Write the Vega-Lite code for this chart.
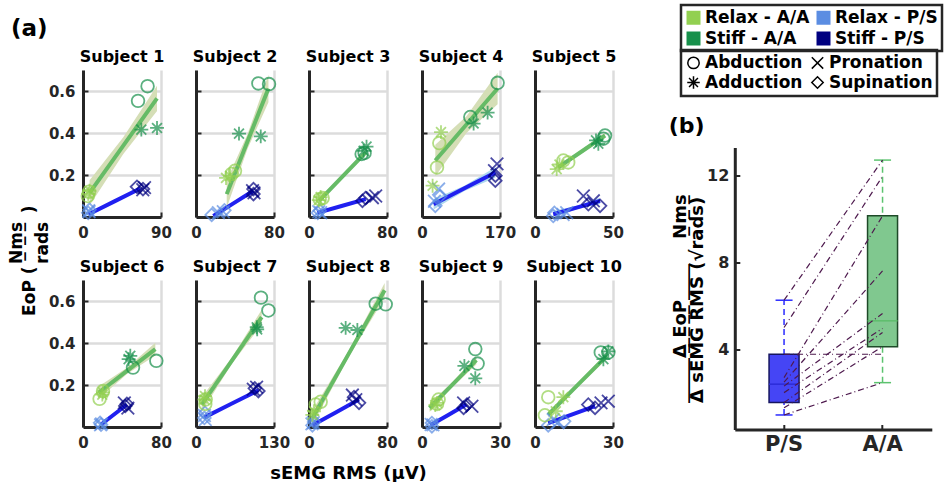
{
"$schema":"https://vega.github.io/schema/vega-lite/v6.json",
"padding":{"left":7,"top":3,"right":0,"bottom":0},
"title":{"text":["\u200b\u00a0\u00a0\u00a0\u00a0\u00a0\u00a0\u00a0\u00a0\u00a0N\u0332m\u0332s\u0332\u00a0\u00a0\u00a0\u00a0\u00a0\u00a0\u00a0\u00a0\u00a0\u200b","EoP (\u00a0\u00a0\u00a0\u00a0\u00a0\u00a0\u00a0\u00a0\u00a0)\u00a0\u00a0\u00a0\u00a0\u00a0\u00a0\u200b","\u200b\u00a0\u00a0\u00a0\u00a0\u00a0\u00a0\u00a0\u00a0\u00a0rads\u00a0\u00a0\u00a0\u00a0\u00a0\u00a0\u00a0\u00a0\u00a0\u200b"],"orient":"left","anchor":"middle","frame":"bounds","offset":-41,"fontSize":17,"lineHeight":13},
"datasets":{
"pts":[
{"s":1,"c":"Relax - P/S","m":"Supination","x":6,"y":0.02},{"s":1,"c":"Relax - P/S","m":"Supination","x":7.5,"y":0.035},{"s":1,"c":"Relax - P/S","m":"Pronation","x":6.5,"y":0.03},{"s":1,"c":"Relax - P/S","m":"Pronation","x":7,"y":0.025},
{"s":1,"c":"Stiff - P/S","m":"Supination","x":62.3,"y":0.144},{"s":1,"c":"Stiff - P/S","m":"Supination","x":69.2,"y":0.133},{"s":1,"c":"Stiff - P/S","m":"Pronation","x":69,"y":0.13},{"s":1,"c":"Stiff - P/S","m":"Pronation","x":71,"y":0.14},
{"s":1,"c":"Relax - A/A","m":"Abduction","x":5.5,"y":0.1},{"s":1,"c":"Relax - A/A","m":"Abduction","x":7,"y":0.12},{"s":1,"c":"Relax - A/A","m":"Adduction","x":6,"y":0.11},{"s":1,"c":"Relax - A/A","m":"Adduction","x":7.5,"y":0.125},
{"s":1,"c":"Stiff - A/A","m":"Abduction","x":63.5,"y":0.553},{"s":1,"c":"Stiff - A/A","m":"Abduction","x":74.5,"y":0.623},{"s":1,"c":"Stiff - A/A","m":"Adduction","x":67.3,"y":0.416},{"s":1,"c":"Stiff - A/A","m":"Adduction","x":85.4,"y":0.424},
{"s":2,"c":"Relax - P/S","m":"Supination","x":16.1,"y":0.01},{"s":2,"c":"Relax - P/S","m":"Supination","x":29.1,"y":0.032},{"s":2,"c":"Relax - P/S","m":"Pronation","x":23,"y":0.02},{"s":2,"c":"Relax - P/S","m":"Pronation","x":28,"y":0.025},
{"s":2,"c":"Stiff - P/S","m":"Supination","x":58.9,"y":0.133},{"s":2,"c":"Stiff - P/S","m":"Supination","x":58.9,"y":0.109},{"s":2,"c":"Stiff - P/S","m":"Pronation","x":58,"y":0.125},{"s":2,"c":"Stiff - P/S","m":"Pronation","x":59.5,"y":0.115},
{"s":2,"c":"Relax - A/A","m":"Abduction","x":40,"y":0.22},{"s":2,"c":"Relax - A/A","m":"Abduction","x":36.6,"y":0.205},{"s":2,"c":"Relax - A/A","m":"Adduction","x":30.8,"y":0.186},{"s":2,"c":"Relax - A/A","m":"Adduction","x":34.9,"y":0.196},
{"s":2,"c":"Stiff - A/A","m":"Abduction","x":64,"y":0.636},{"s":2,"c":"Stiff - A/A","m":"Abduction","x":74.9,"y":0.633},{"s":2,"c":"Stiff - A/A","m":"Adduction","x":44.1,"y":0.397},{"s":2,"c":"Stiff - A/A","m":"Adduction","x":66.4,"y":0.384},
{"s":3,"c":"Relax - P/S","m":"Supination","x":9,"y":0.02},{"s":3,"c":"Relax - P/S","m":"Supination","x":11,"y":0.03},{"s":3,"c":"Relax - P/S","m":"Pronation","x":10,"y":0.025},{"s":3,"c":"Relax - P/S","m":"Pronation","x":12,"y":0.02},
{"s":3,"c":"Stiff - P/S","m":"Supination","x":54.8,"y":0.077},{"s":3,"c":"Stiff - P/S","m":"Supination","x":58,"y":0.09},{"s":3,"c":"Stiff - P/S","m":"Pronation","x":68.4,"y":0.1},{"s":3,"c":"Stiff - P/S","m":"Pronation","x":65,"y":0.092},
{"s":3,"c":"Relax - A/A","m":"Abduction","x":14,"y":0.09},{"s":3,"c":"Relax - A/A","m":"Abduction","x":11,"y":0.085},{"s":3,"c":"Relax - A/A","m":"Adduction","x":10,"y":0.08},{"s":3,"c":"Relax - A/A","m":"Adduction","x":12,"y":0.095},
{"s":3,"c":"Stiff - A/A","m":"Abduction","x":54,"y":0.3},{"s":3,"c":"Stiff - A/A","m":"Abduction","x":57,"y":0.305},{"s":3,"c":"Stiff - A/A","m":"Adduction","x":56,"y":0.315},{"s":3,"c":"Stiff - A/A","m":"Adduction","x":59,"y":0.335},
{"s":4,"c":"Relax - P/S","m":"Supination","x":29,"y":0.053},{"s":4,"c":"Relax - P/S","m":"Supination","x":39.9,"y":0.1},{"s":4,"c":"Relax - P/S","m":"Pronation","x":36.2,"y":0.133},{"s":4,"c":"Relax - P/S","m":"Pronation","x":27,"y":0.075},
{"s":4,"c":"Stiff - P/S","m":"Supination","x":159.8,"y":0.173},{"s":4,"c":"Stiff - P/S","m":"Supination","x":160,"y":0.197},{"s":4,"c":"Stiff - P/S","m":"Pronation","x":163.5,"y":0.253},{"s":4,"c":"Stiff - P/S","m":"Pronation","x":158,"y":0.22},
{"s":4,"c":"Relax - A/A","m":"Abduction","x":37.7,"y":0.352},{"s":4,"c":"Relax - A/A","m":"Abduction","x":32.7,"y":0.236},{"s":4,"c":"Relax - A/A","m":"Adduction","x":41.4,"y":0.404},{"s":4,"c":"Relax - A/A","m":"Adduction","x":23.1,"y":0.149},
{"s":4,"c":"Stiff - A/A","m":"Abduction","x":164.8,"y":0.639},{"s":4,"c":"Stiff - A/A","m":"Abduction","x":105.3,"y":0.476},{"s":4,"c":"Stiff - A/A","m":"Adduction","x":112.5,"y":0.445},{"s":4,"c":"Stiff - A/A","m":"Adduction","x":143,"y":0.497},
{"s":5,"c":"Relax - P/S","m":"Supination","x":11.7,"y":0.005},{"s":5,"c":"Relax - P/S","m":"Supination","x":12.4,"y":0.02},{"s":5,"c":"Relax - P/S","m":"Pronation","x":20.3,"y":0.02},{"s":5,"c":"Relax - P/S","m":"Pronation","x":18,"y":0.012},
{"s":5,"c":"Stiff - P/S","m":"Supination","x":41.7,"y":0.053},{"s":5,"c":"Stiff - P/S","m":"Supination","x":34.2,"y":0.061},{"s":5,"c":"Stiff - P/S","m":"Pronation","x":31,"y":0.1},{"s":5,"c":"Stiff - P/S","m":"Pronation","x":37.4,"y":0.077},
{"s":5,"c":"Relax - A/A","m":"Abduction","x":18.2,"y":0.269},{"s":5,"c":"Relax - A/A","m":"Abduction","x":21.3,"y":0.26},{"s":5,"c":"Relax - A/A","m":"Adduction","x":13.9,"y":0.228},{"s":5,"c":"Relax - A/A","m":"Adduction","x":15.7,"y":0.25},
{"s":5,"c":"Stiff - A/A","m":"Abduction","x":44.9,"y":0.388},{"s":5,"c":"Stiff - A/A","m":"Abduction","x":43.8,"y":0.373},{"s":5,"c":"Stiff - A/A","m":"Adduction","x":39.1,"y":0.365},{"s":5,"c":"Stiff - A/A","m":"Adduction","x":40.6,"y":0.349},
{"s":6,"c":"Relax - P/S","m":"Supination","x":18.5,"y":0.011},{"s":6,"c":"Relax - P/S","m":"Supination","x":17.5,"y":0.02},{"s":6,"c":"Relax - P/S","m":"Pronation","x":18,"y":0.01},{"s":6,"c":"Relax - P/S","m":"Pronation","x":19,"y":0.015},
{"s":6,"c":"Stiff - P/S","m":"Supination","x":43.4,"y":0.1},{"s":6,"c":"Stiff - P/S","m":"Supination","x":45,"y":0.11},{"s":6,"c":"Stiff - P/S","m":"Pronation","x":42.4,"y":0.115},{"s":6,"c":"Stiff - P/S","m":"Pronation","x":46,"y":0.09},
{"s":6,"c":"Relax - A/A","m":"Abduction","x":17,"y":0.134},{"s":6,"c":"Relax - A/A","m":"Abduction","x":20.5,"y":0.171},{"s":6,"c":"Relax - A/A","m":"Adduction","x":20.5,"y":0.165},{"s":6,"c":"Relax - A/A","m":"Adduction","x":19.8,"y":0.154},
{"s":6,"c":"Stiff - A/A","m":"Abduction","x":51.3,"y":0.283},{"s":6,"c":"Stiff - A/A","m":"Abduction","x":75.2,"y":0.315},{"s":6,"c":"Stiff - A/A","m":"Adduction","x":48.5,"y":0.339},{"s":6,"c":"Stiff - A/A","m":"Adduction","x":46.8,"y":0.323},
{"s":7,"c":"Relax - P/S","m":"Supination","x":14,"y":0.043},{"s":7,"c":"Relax - P/S","m":"Supination","x":15,"y":0.067},{"s":7,"c":"Relax - P/S","m":"Pronation","x":14,"y":0.055},{"s":7,"c":"Relax - P/S","m":"Pronation","x":15.5,"y":0.035},
{"s":7,"c":"Stiff - P/S","m":"Supination","x":104,"y":0.171},{"s":7,"c":"Stiff - P/S","m":"Supination","x":98,"y":0.184},{"s":7,"c":"Stiff - P/S","m":"Pronation","x":101,"y":0.19},{"s":7,"c":"Stiff - P/S","m":"Pronation","x":95.5,"y":0.18},
{"s":7,"c":"Relax - A/A","m":"Abduction","x":16.2,"y":0.131},{"s":7,"c":"Relax - A/A","m":"Abduction","x":15.5,"y":0.11},{"s":7,"c":"Relax - A/A","m":"Adduction","x":15,"y":0.147},{"s":7,"c":"Relax - A/A","m":"Adduction","x":14,"y":0.131},
{"s":7,"c":"Stiff - A/A","m":"Abduction","x":108.3,"y":0.616},{"s":7,"c":"Stiff - A/A","m":"Abduction","x":120.7,"y":0.555},{"s":7,"c":"Stiff - A/A","m":"Adduction","x":101.2,"y":0.475},{"s":7,"c":"Stiff - A/A","m":"Adduction","x":102,"y":0.465},
{"s":8,"c":"Relax - P/S","m":"Supination","x":3.5,"y":0.008},{"s":8,"c":"Relax - P/S","m":"Supination","x":5.2,"y":0.024},{"s":8,"c":"Relax - P/S","m":"Pronation","x":4.5,"y":0.02},{"s":8,"c":"Relax - P/S","m":"Pronation","x":3,"y":0.015},
{"s":8,"c":"Stiff - P/S","m":"Supination","x":51.3,"y":0.115},{"s":8,"c":"Stiff - P/S","m":"Supination","x":46.2,"y":0.142},{"s":8,"c":"Stiff - P/S","m":"Pronation","x":44.5,"y":0.152},{"s":8,"c":"Stiff - P/S","m":"Pronation","x":48,"y":0.13},
{"s":8,"c":"Relax - A/A","m":"Abduction","x":12,"y":0.12},{"s":8,"c":"Relax - A/A","m":"Abduction","x":6.9,"y":0.107},{"s":8,"c":"Relax - A/A","m":"Adduction","x":5.1,"y":0.075},{"s":8,"c":"Relax - A/A","m":"Adduction","x":3.4,"y":0.058},
{"s":8,"c":"Stiff - A/A","m":"Abduction","x":68.4,"y":0.587},{"s":8,"c":"Stiff - A/A","m":"Abduction","x":78.7,"y":0.584},{"s":8,"c":"Stiff - A/A","m":"Adduction","x":37.6,"y":0.472},{"s":8,"c":"Stiff - A/A","m":"Adduction","x":49.6,"y":0.462},
{"s":9,"c":"Relax - P/S","m":"Supination","x":3.8,"y":0.003},{"s":9,"c":"Relax - P/S","m":"Supination","x":3.8,"y":0.019},{"s":9,"c":"Relax - P/S","m":"Pronation","x":4.2,"y":0.01},{"s":9,"c":"Relax - P/S","m":"Pronation","x":3.5,"y":0.012},
{"s":9,"c":"Stiff - P/S","m":"Supination","x":16,"y":0.091},{"s":9,"c":"Stiff - P/S","m":"Supination","x":17.3,"y":0.107},{"s":9,"c":"Stiff - P/S","m":"Pronation","x":19.2,"y":0.099},{"s":9,"c":"Stiff - P/S","m":"Pronation","x":16,"y":0.115},
{"s":9,"c":"Relax - A/A","m":"Abduction","x":6.4,"y":0.131},{"s":9,"c":"Relax - A/A","m":"Abduction","x":5.8,"y":0.11},{"s":9,"c":"Relax - A/A","m":"Adduction","x":5.1,"y":0.104},{"s":9,"c":"Relax - A/A","m":"Adduction","x":5.8,"y":0.115},
{"s":9,"c":"Stiff - A/A","m":"Abduction","x":20.5,"y":0.371},{"s":9,"c":"Stiff - A/A","m":"Abduction","x":21.4,"y":0.302},{"s":9,"c":"Stiff - A/A","m":"Adduction","x":16.3,"y":0.291},{"s":9,"c":"Stiff - A/A","m":"Adduction","x":20.5,"y":0.232},
{"s":10,"c":"Relax - P/S","m":"Supination","x":5.1,"y":0.008},{"s":10,"c":"Relax - P/S","m":"Supination","x":11.2,"y":0.027},{"s":10,"c":"Relax - P/S","m":"Pronation","x":7,"y":0.035},{"s":10,"c":"Relax - P/S","m":"Pronation","x":8.8,"y":0.02},
{"s":10,"c":"Stiff - P/S","m":"Supination","x":23.1,"y":0.091},{"s":10,"c":"Stiff - P/S","m":"Supination","x":20.5,"y":0.107},{"s":10,"c":"Stiff - P/S","m":"Pronation","x":28.2,"y":0.123},{"s":10,"c":"Stiff - P/S","m":"Pronation","x":25.4,"y":0.115},
{"s":10,"c":"Relax - A/A","m":"Abduction","x":5.1,"y":0.142},{"s":10,"c":"Relax - A/A","m":"Abduction","x":3.8,"y":0.056},{"s":10,"c":"Relax - A/A","m":"Adduction","x":10.9,"y":0.142},{"s":10,"c":"Relax - A/A","m":"Adduction","x":8,"y":0.075},
{"s":10,"c":"Stiff - A/A","m":"Abduction","x":25.3,"y":0.355},{"s":10,"c":"Stiff - A/A","m":"Abduction","x":28.2,"y":0.355},{"s":10,"c":"Stiff - A/A","m":"Adduction","x":26.3,"y":0.323},{"s":10,"c":"Stiff - A/A","m":"Adduction","x":28.2,"y":0.36}
],
"fits":[
{"s":1,"g":"A/A","x":7.6,"y":0.115,"lo":0.055,"hi":0.175},{"s":1,"g":"A/A","x":46.5,"y":0.34,"lo":0.3,"hi":0.38},{"s":1,"g":"A/A","x":85.4,"y":0.565,"lo":0.505,"hi":0.625},
{"s":1,"g":"P/S","x":6.5,"y":0.013,"lo":0.005,"hi":0.021},{"s":1,"g":"P/S","x":36.25,"y":0.0745,"lo":0.069,"hi":0.08},{"s":1,"g":"P/S","x":66,"y":0.136,"lo":0.128,"hi":0.144},
{"s":2,"g":"A/A","x":31.5,"y":0.109,"lo":0.044,"hi":0.174},{"s":2,"g":"A/A","x":52.9,"y":0.3605,"lo":0.325,"hi":0.395},{"s":2,"g":"A/A","x":74.3,"y":0.612,"lo":0.547,"hi":0.677},
{"s":2,"g":"P/S","x":17.8,"y":0.005,"lo":-0.003,"hi":0.013},{"s":2,"g":"P/S","x":38.35,"y":0.065,"lo":0.06,"hi":0.07},{"s":2,"g":"P/S","x":58.9,"y":0.125,"lo":0.117,"hi":0.133},
{"s":3,"g":"A/A","x":10.3,"y":0.077,"lo":0.065,"hi":0.089},{"s":3,"g":"A/A","x":34.25,"y":0.1925,"lo":0.185,"hi":0.2},{"s":3,"g":"A/A","x":58.2,"y":0.308,"lo":0.296,"hi":0.32},
{"s":3,"g":"P/S","x":8.6,"y":0.02,"lo":0.012,"hi":0.028},{"s":3,"g":"P/S","x":33.4,"y":0.0525,"lo":0.047,"hi":0.058},{"s":3,"g":"P/S","x":58.2,"y":0.085,"lo":0.077,"hi":0.093},
{"s":4,"g":"A/A","x":29,"y":0.269,"lo":0.194,"hi":0.344},{"s":4,"g":"A/A","x":96.9,"y":0.4405,"lo":0.4,"hi":0.48},{"s":4,"g":"A/A","x":164.8,"y":0.612,"lo":0.537,"hi":0.687},
{"s":4,"g":"P/S","x":25.3,"y":0.061,"lo":0.036,"hi":0.086},{"s":4,"g":"P/S","x":92.55,"y":0.1365,"lo":0.124,"hi":0.149},{"s":4,"g":"P/S","x":159.8,"y":0.212,"lo":0.187,"hi":0.237},
{"s":5,"g":"A/A","x":14.9,"y":0.236,"lo":0.224,"hi":0.248},{"s":5,"g":"A/A","x":29.9,"y":0.312,"lo":0.304,"hi":0.32},{"s":5,"g":"A/A","x":44.9,"y":0.388,"lo":0.376,"hi":0.4},
{"s":5,"g":"P/S","x":11.7,"y":0.013,"lo":-0.002,"hi":0.028},{"s":5,"g":"P/S","x":26.7,"y":0.045,"lo":0.037,"hi":0.053},{"s":5,"g":"P/S","x":41.7,"y":0.077,"lo":0.062,"hi":0.092},
{"s":6,"g":"A/A","x":16,"y":0.163,"lo":0.133,"hi":0.193},{"s":6,"g":"A/A","x":45.1,"y":0.267,"lo":0.252,"hi":0.282},{"s":6,"g":"A/A","x":74.2,"y":0.371,"lo":0.341,"hi":0.401},
{"s":6,"g":"P/S","x":18.5,"y":0.012,"lo":0.004,"hi":0.02},{"s":6,"g":"P/S","x":31.8,"y":0.0595,"lo":0.055,"hi":0.064},{"s":6,"g":"P/S","x":45.1,"y":0.107,"lo":0.099,"hi":0.115},
{"s":7,"g":"A/A","x":9.5,"y":0.107,"lo":0.072,"hi":0.142},{"s":7,"g":"A/A","x":59.5,"y":0.315,"lo":0.3,"hi":0.33},{"s":7,"g":"A/A","x":109.5,"y":0.523,"lo":0.488,"hi":0.558},
{"s":7,"g":"P/S","x":14,"y":0.046,"lo":0.038,"hi":0.054},{"s":7,"g":"P/S","x":59,"y":0.1105,"lo":0.106,"hi":0.115},{"s":7,"g":"P/S","x":104,"y":0.175,"lo":0.167,"hi":0.183},
{"s":8,"g":"A/A","x":3.5,"y":0.043,"lo":0.008,"hi":0.078},{"s":8,"g":"A/A","x":40.55,"y":0.347,"lo":0.332,"hi":0.362},{"s":8,"g":"A/A","x":77.6,"y":0.651,"lo":0.616,"hi":0.686},
{"s":8,"g":"P/S","x":3.5,"y":0.008,"lo":0,"hi":0.016},{"s":8,"g":"P/S","x":27.4,"y":0.0695,"lo":0.065,"hi":0.074},{"s":8,"g":"P/S","x":51.3,"y":0.131,"lo":0.123,"hi":0.139},
{"s":9,"g":"A/A","x":2.9,"y":0.091,"lo":0.071,"hi":0.111},{"s":9,"g":"A/A","x":11.9,"y":0.2045,"lo":0.1925,"hi":0.2165},{"s":9,"g":"A/A","x":20.9,"y":0.318,"lo":0.298,"hi":0.338},
{"s":9,"g":"P/S","x":3.2,"y":0.008,"lo":0,"hi":0.016},{"s":9,"g":"P/S","x":10.1,"y":0.0575,"lo":0.053,"hi":0.062},{"s":9,"g":"P/S","x":17,"y":0.107,"lo":0.099,"hi":0.115},
{"s":10,"g":"A/A","x":5.1,"y":0.059,"lo":0.044,"hi":0.074},{"s":10,"g":"A/A","x":16.35,"y":0.199,"lo":0.189,"hi":0.209},{"s":10,"g":"A/A","x":27.6,"y":0.339,"lo":0.324,"hi":0.354},
{"s":10,"g":"P/S","x":5.1,"y":0.019,"lo":0.011,"hi":0.027},{"s":10,"g":"P/S","x":14.1,"y":0.059,"lo":0.055,"hi":0.063},{"s":10,"g":"P/S","x":23.1,"y":0.099,"lo":0.091,"hi":0.107}
],
"boxes":[
{"cat":"P/S","lo":0.97,"q1":1.54,"med":2.39,"q3":3.77,"hi":6.26},
{"cat":"A/A","lo":2.46,"q1":4.12,"med":5.31,"q3":10.15,"hi":12.72}
],
"pairs":[
{"subj":1,"cat":"P/S","v":6.26},{"subj":1,"cat":"A/A","v":12.72},
{"subj":2,"cat":"P/S","v":5.0},{"subj":2,"cat":"A/A","v":11.97},
{"subj":3,"cat":"P/S","v":2.69},{"subj":3,"cat":"A/A","v":10.15},
{"subj":4,"cat":"P/S","v":2.48},{"subj":4,"cat":"A/A","v":7.61},
{"subj":5,"cat":"P/S","v":3.77},{"subj":5,"cat":"A/A","v":3.77},
{"subj":6,"cat":"P/S","v":2.3},{"subj":6,"cat":"A/A","v":5.65},
{"subj":7,"cat":"P/S","v":2.0},{"subj":7,"cat":"A/A","v":4.96},
{"subj":8,"cat":"P/S","v":1.54},{"subj":8,"cat":"A/A","v":4.77},
{"subj":9,"cat":"P/S","v":1.3},{"subj":9,"cat":"A/A","v":4.12},
{"subj":10,"cat":"P/S","v":0.97},{"subj":10,"cat":"A/A","v":2.46}
]
},
"config":{
"font":"DejaVu Sans",
"view":{"stroke":null},
"range":{"category":["#92D050","#17904B","#5B8DE2","#000080"],
"symbol":["circle","M0,-1.1L0,1.1M-1.1,0L1.1,0M-0.78,-0.78L0.78,0.78M-0.78,0.78L0.78,-0.78","M-1,-1L1,1M-1,1L1,-1","diamond"]},
"title":{"font":"DejaVu Sans","fontSize":16,"fontWeight":"bold","color":"black","offset":5},
"axis":{"labelFont":"DejaVu Sans","labelFontWeight":"bold","labelFontSize":15,"labelColor":"#262626","labelPadding":13,"labelFlush":false,"domainColor":"#262626","domainWidth":3,"tickColor":"#262626","tickWidth":2,"tickSize":-5,"gridColor":"#DCDCDC","gridWidth":2.5,"gridOpacity":1,"titleFont":"DejaVu Sans","titleFontWeight":"bold","titleFontSize":18,"titleColor":"black"},
"legend":{"labelFont":"DejaVu Sans","labelFontWeight":"bold","labelFontSize":17,"labelColor":"black","strokeColor":"#262626","strokeWidth":2.5,"padding":4,"columns":2,"columnPadding":5,"rowPadding":1,"labelOffset":3,"orient":"none"}
},
"spacing":44.8,
"hconcat":[
{"spacing":19,
"title":{"text":"(a)","anchor":"start","frame":"group","dx":-72,"offset":8,"fontSize":23},
"vconcat":[
{"bounds":"flush","spacing":35,
"hconcat":[
{"width":78,"height":147,"title":"Subject 1",
"encoding":{"x":{"field":"x","type":"quantitative","scale":{"domain":[0,90],"nice":false},"axis":{"values":[0,90],"title":null}}},
"layer":[
{"data":{"name":"fits"},"transform":[{"filter":"datum.s==1"}],"mark":{"type":"area"},"encoding":{"y":{"field":"lo","type":"quantitative","scale":{"domain":[0,0.7],"nice":false},"axis":{"values":[0.2,0.4,0.6],"title":null}},"y2":{"field":"hi"},"fill":{"field":"g","type":"nominal","scale":{"domain":["A/A","P/S"],"range":["#D5DEB6","#AED8EE"]},"legend":null}}},
{"data":{"name":"fits"},"transform":[{"filter":"datum.s==1"}],"mark":{"type":"line","strokeWidth":4},"encoding":{"y":{"field":"y","type":"quantitative"},"stroke":{"field":"g","type":"nominal","scale":{"domain":["A/A","P/S"],"range":["#66BB66","#2020F0"]},"legend":null}}},
{"data":{"name":"pts"},"transform":[{"filter":"datum.s==1"}],"mark":{"type":"square","filled":true,"opacity":0},"encoding":{"y":{"field":"y","type":"quantitative"},
"color":{"field":"c","type":"nominal","sort":["Relax - A/A","Stiff - A/A","Relax - P/S","Stiff - P/S"],"legend":{"title":null,"legendX":598,"legendY":-65,"symbolType":"square","symbolSize":196,"symbolOpacity":1,"symbolStrokeWidth":0,"rowPadding":3}}}},
{"data":{"name":"pts"},"transform":[{"filter":"datum.s==1"}],"mark":{"type":"point","filled":false,"size":160,"strokeWidth":1.8},"encoding":{"y":{"field":"y","type":"quantitative"},
"color":{"field":"c","type":"nominal","sort":["Relax - A/A","Stiff - A/A","Relax - P/S","Stiff - P/S"],"legend":null},
"shape":{"field":"m","type":"nominal","legend":{"title":null,"legendX":598,"legendY":-20,"symbolSize":130,"symbolStrokeColor":"black","symbolFillColor":"transparent","symbolStrokeWidth":1.5,"symbolOpacity":1}}}}
]},
{"width":78,"height":147,"title":"Subject 2",
"encoding":{"x":{"field":"x","type":"quantitative","scale":{"domain":[0,80],"nice":false},"axis":{"values":[0,80],"title":null}}},
"layer":[
{"data":{"name":"fits"},"transform":[{"filter":"datum.s==2"}],"mark":{"type":"area"},"encoding":{"y":{"field":"lo","type":"quantitative","scale":{"domain":[0,0.7],"nice":false},"axis":{"values":[0.2,0.4,0.6],"labels":false,"title":null}},"y2":{"field":"hi"},"fill":{"field":"g","type":"nominal","scale":{"domain":["A/A","P/S"],"range":["#D5DEB6","#AED8EE"]},"legend":null}}},
{"data":{"name":"fits"},"transform":[{"filter":"datum.s==2"}],"mark":{"type":"line","strokeWidth":4},"encoding":{"y":{"field":"y","type":"quantitative"},"stroke":{"field":"g","type":"nominal","scale":{"domain":["A/A","P/S"],"range":["#66BB66","#2020F0"]},"legend":null}}},
{"data":{"name":"pts"},"transform":[{"filter":"datum.s==2"}],"mark":{"type":"point","filled":false,"size":160,"strokeWidth":1.8},"encoding":{"y":{"field":"y","type":"quantitative"},"color":{"field":"c","type":"nominal","sort":["Relax - A/A","Stiff - A/A","Relax - P/S","Stiff - P/S"],"legend":null},"shape":{"field":"m","type":"nominal"}}}
]},
{"width":78,"height":147,"title":"Subject 3",
"encoding":{"x":{"field":"x","type":"quantitative","scale":{"domain":[0,80],"nice":false},"axis":{"values":[0,80],"title":null}}},
"layer":[
{"data":{"name":"fits"},"transform":[{"filter":"datum.s==3"}],"mark":{"type":"area"},"encoding":{"y":{"field":"lo","type":"quantitative","scale":{"domain":[0,0.7],"nice":false},"axis":{"values":[0.2,0.4,0.6],"labels":false,"title":null}},"y2":{"field":"hi"},"fill":{"field":"g","type":"nominal","scale":{"domain":["A/A","P/S"],"range":["#D5DEB6","#AED8EE"]},"legend":null}}},
{"data":{"name":"fits"},"transform":[{"filter":"datum.s==3"}],"mark":{"type":"line","strokeWidth":4},"encoding":{"y":{"field":"y","type":"quantitative"},"stroke":{"field":"g","type":"nominal","scale":{"domain":["A/A","P/S"],"range":["#66BB66","#2020F0"]},"legend":null}}},
{"data":{"name":"pts"},"transform":[{"filter":"datum.s==3"}],"mark":{"type":"point","filled":false,"size":160,"strokeWidth":1.8},"encoding":{"y":{"field":"y","type":"quantitative"},"color":{"field":"c","type":"nominal","sort":["Relax - A/A","Stiff - A/A","Relax - P/S","Stiff - P/S"],"legend":null},"shape":{"field":"m","type":"nominal"}}}
]},
{"width":78,"height":147,"title":"Subject 4",
"encoding":{"x":{"field":"x","type":"quantitative","scale":{"domain":[0,170],"nice":false},"axis":{"values":[0,170],"title":null}}},
"layer":[
{"data":{"name":"fits"},"transform":[{"filter":"datum.s==4"}],"mark":{"type":"area"},"encoding":{"y":{"field":"lo","type":"quantitative","scale":{"domain":[0,0.7],"nice":false},"axis":{"values":[0.2,0.4,0.6],"labels":false,"title":null}},"y2":{"field":"hi"},"fill":{"field":"g","type":"nominal","scale":{"domain":["A/A","P/S"],"range":["#D5DEB6","#AED8EE"]},"legend":null}}},
{"data":{"name":"fits"},"transform":[{"filter":"datum.s==4"}],"mark":{"type":"line","strokeWidth":4},"encoding":{"y":{"field":"y","type":"quantitative"},"stroke":{"field":"g","type":"nominal","scale":{"domain":["A/A","P/S"],"range":["#66BB66","#2020F0"]},"legend":null}}},
{"data":{"name":"pts"},"transform":[{"filter":"datum.s==4"}],"mark":{"type":"point","filled":false,"size":160,"strokeWidth":1.8},"encoding":{"y":{"field":"y","type":"quantitative"},"color":{"field":"c","type":"nominal","sort":["Relax - A/A","Stiff - A/A","Relax - P/S","Stiff - P/S"],"legend":null},"shape":{"field":"m","type":"nominal"}}}
]},
{"width":78,"height":147,"title":"Subject 5",
"encoding":{"x":{"field":"x","type":"quantitative","scale":{"domain":[0,50],"nice":false},"axis":{"values":[0,50],"title":null}}},
"layer":[
{"data":{"name":"fits"},"transform":[{"filter":"datum.s==5"}],"mark":{"type":"area"},"encoding":{"y":{"field":"lo","type":"quantitative","scale":{"domain":[0,0.7],"nice":false},"axis":{"values":[0.2,0.4,0.6],"labels":false,"title":null}},"y2":{"field":"hi"},"fill":{"field":"g","type":"nominal","scale":{"domain":["A/A","P/S"],"range":["#D5DEB6","#AED8EE"]},"legend":null}}},
{"data":{"name":"fits"},"transform":[{"filter":"datum.s==5"}],"mark":{"type":"line","strokeWidth":4},"encoding":{"y":{"field":"y","type":"quantitative"},"stroke":{"field":"g","type":"nominal","scale":{"domain":["A/A","P/S"],"range":["#66BB66","#2020F0"]},"legend":null}}},
{"data":{"name":"pts"},"transform":[{"filter":"datum.s==5"}],"mark":{"type":"point","filled":false,"size":160,"strokeWidth":1.8},"encoding":{"y":{"field":"y","type":"quantitative"},"color":{"field":"c","type":"nominal","sort":["Relax - A/A","Stiff - A/A","Relax - P/S","Stiff - P/S"],"legend":null},"shape":{"field":"m","type":"nominal"}}}
]}
]},
{"bounds":"flush","spacing":35,
"hconcat":[
{"width":78,"height":147,"title":"Subject 6",
"encoding":{"x":{"field":"x","type":"quantitative","scale":{"domain":[0,80],"nice":false},"axis":{"values":[0,80],"title":null}}},
"layer":[
{"data":{"name":"fits"},"transform":[{"filter":"datum.s==6"}],"mark":{"type":"area"},"encoding":{"y":{"field":"lo","type":"quantitative","scale":{"domain":[0,0.7],"nice":false},"axis":{"values":[0.2,0.4,0.6],"title":null}},"y2":{"field":"hi"},"fill":{"field":"g","type":"nominal","scale":{"domain":["A/A","P/S"],"range":["#D5DEB6","#AED8EE"]},"legend":null}}},
{"data":{"name":"fits"},"transform":[{"filter":"datum.s==6"}],"mark":{"type":"line","strokeWidth":4},"encoding":{"y":{"field":"y","type":"quantitative"},"stroke":{"field":"g","type":"nominal","scale":{"domain":["A/A","P/S"],"range":["#66BB66","#2020F0"]},"legend":null}}},
{"data":{"name":"pts"},"transform":[{"filter":"datum.s==6"}],"mark":{"type":"point","filled":false,"size":160,"strokeWidth":1.8},"encoding":{"y":{"field":"y","type":"quantitative"},"color":{"field":"c","type":"nominal","sort":["Relax - A/A","Stiff - A/A","Relax - P/S","Stiff - P/S"],"legend":null},"shape":{"field":"m","type":"nominal"}}}
]},
{"width":78,"height":147,"title":"Subject 7",
"encoding":{"x":{"field":"x","type":"quantitative","scale":{"domain":[0,130],"nice":false},"axis":{"values":[0,130],"title":null}}},
"layer":[
{"data":{"name":"fits"},"transform":[{"filter":"datum.s==7"}],"mark":{"type":"area"},"encoding":{"y":{"field":"lo","type":"quantitative","scale":{"domain":[0,0.7],"nice":false},"axis":{"values":[0.2,0.4,0.6],"labels":false,"title":null}},"y2":{"field":"hi"},"fill":{"field":"g","type":"nominal","scale":{"domain":["A/A","P/S"],"range":["#D5DEB6","#AED8EE"]},"legend":null}}},
{"data":{"name":"fits"},"transform":[{"filter":"datum.s==7"}],"mark":{"type":"line","strokeWidth":4},"encoding":{"y":{"field":"y","type":"quantitative"},"stroke":{"field":"g","type":"nominal","scale":{"domain":["A/A","P/S"],"range":["#66BB66","#2020F0"]},"legend":null}}},
{"data":{"name":"pts"},"transform":[{"filter":"datum.s==7"}],"mark":{"type":"point","filled":false,"size":160,"strokeWidth":1.8},"encoding":{"y":{"field":"y","type":"quantitative"},"color":{"field":"c","type":"nominal","sort":["Relax - A/A","Stiff - A/A","Relax - P/S","Stiff - P/S"],"legend":null},"shape":{"field":"m","type":"nominal"}}}
]},
{"width":78,"height":147,"title":"Subject 8",
"encoding":{"x":{"field":"x","type":"quantitative","scale":{"domain":[0,80],"nice":false},"axis":{"values":[0,80],"title":"sEMG RMS (μV)","titlePadding":14}}},
"layer":[
{"data":{"name":"fits"},"transform":[{"filter":"datum.s==8"}],"mark":{"type":"area"},"encoding":{"y":{"field":"lo","type":"quantitative","scale":{"domain":[0,0.7],"nice":false},"axis":{"values":[0.2,0.4,0.6],"labels":false,"title":null}},"y2":{"field":"hi"},"fill":{"field":"g","type":"nominal","scale":{"domain":["A/A","P/S"],"range":["#D5DEB6","#AED8EE"]},"legend":null}}},
{"data":{"name":"fits"},"transform":[{"filter":"datum.s==8"}],"mark":{"type":"line","strokeWidth":4},"encoding":{"y":{"field":"y","type":"quantitative"},"stroke":{"field":"g","type":"nominal","scale":{"domain":["A/A","P/S"],"range":["#66BB66","#2020F0"]},"legend":null}}},
{"data":{"name":"pts"},"transform":[{"filter":"datum.s==8"}],"mark":{"type":"point","filled":false,"size":160,"strokeWidth":1.8},"encoding":{"y":{"field":"y","type":"quantitative"},"color":{"field":"c","type":"nominal","sort":["Relax - A/A","Stiff - A/A","Relax - P/S","Stiff - P/S"],"legend":null},"shape":{"field":"m","type":"nominal"}}}
]},
{"width":78,"height":147,"title":"Subject 9",
"encoding":{"x":{"field":"x","type":"quantitative","scale":{"domain":[0,30],"nice":false},"axis":{"values":[0,30],"title":null}}},
"layer":[
{"data":{"name":"fits"},"transform":[{"filter":"datum.s==9"}],"mark":{"type":"area"},"encoding":{"y":{"field":"lo","type":"quantitative","scale":{"domain":[0,0.7],"nice":false},"axis":{"values":[0.2,0.4,0.6],"labels":false,"title":null}},"y2":{"field":"hi"},"fill":{"field":"g","type":"nominal","scale":{"domain":["A/A","P/S"],"range":["#D5DEB6","#AED8EE"]},"legend":null}}},
{"data":{"name":"fits"},"transform":[{"filter":"datum.s==9"}],"mark":{"type":"line","strokeWidth":4},"encoding":{"y":{"field":"y","type":"quantitative"},"stroke":{"field":"g","type":"nominal","scale":{"domain":["A/A","P/S"],"range":["#66BB66","#2020F0"]},"legend":null}}},
{"data":{"name":"pts"},"transform":[{"filter":"datum.s==9"}],"mark":{"type":"point","filled":false,"size":160,"strokeWidth":1.8},"encoding":{"y":{"field":"y","type":"quantitative"},"color":{"field":"c","type":"nominal","sort":["Relax - A/A","Stiff - A/A","Relax - P/S","Stiff - P/S"],"legend":null},"shape":{"field":"m","type":"nominal"}}}
]},
{"width":78,"height":147,"title":"Subject 10",
"encoding":{"x":{"field":"x","type":"quantitative","scale":{"domain":[0,30],"nice":false},"axis":{"values":[0,30],"title":null}}},
"layer":[
{"data":{"name":"fits"},"transform":[{"filter":"datum.s==10"}],"mark":{"type":"area"},"encoding":{"y":{"field":"lo","type":"quantitative","scale":{"domain":[0,0.7],"nice":false},"axis":{"values":[0.2,0.4,0.6],"labels":false,"title":null}},"y2":{"field":"hi"},"fill":{"field":"g","type":"nominal","scale":{"domain":["A/A","P/S"],"range":["#D5DEB6","#AED8EE"]},"legend":null}}},
{"data":{"name":"fits"},"transform":[{"filter":"datum.s==10"}],"mark":{"type":"line","strokeWidth":4},"encoding":{"y":{"field":"y","type":"quantitative"},"stroke":{"field":"g","type":"nominal","scale":{"domain":["A/A","P/S"],"range":["#66BB66","#2020F0"]},"legend":null}}},
{"data":{"name":"pts"},"transform":[{"filter":"datum.s==10"}],"mark":{"type":"point","filled":false,"size":160,"strokeWidth":1.8},"encoding":{"y":{"field":"y","type":"quantitative"},"color":{"field":"c","type":"nominal","sort":["Relax - A/A","Stiff - A/A","Relax - P/S","Stiff - P/S"],"legend":null},"shape":{"field":"m","type":"nominal"}}}
]}
]}
]},
{"spacing":24.5,"vconcat":[
{"width":197,"height":20,"data":{"values":[{"a":1}]},"mark":{"type":"point","opacity":0},"encoding":{}},
{"width":197,"height":282,
"title":{"text":"(b)","anchor":"start","frame":"group","dx":-66,"offset":10,"fontSize":22},
"encoding":{"x":{"field":"cat","type":"nominal","sort":["P/S","A/A"],"scale":{"domain":["P/S","A/A"],"paddingInner":0,"paddingOuter":0},"axis":{"title":null,"labelAngle":0,"labelFontSize":21,"labelPadding":9,"grid":false}}},
"layer":[
{"data":{"name":"boxes"},"transform":[{"filter":"datum.cat=='P/S'"}],"mark":{"type":"rule","color":"#2B2BFF","strokeWidth":1.5,"strokeDash":[6,4]},"encoding":{"y":{"field":"lo","type":"quantitative","scale":{"domain":[0.3,13.3],"nice":false,"zero":false},"axis":{"values":[4,8,12],"grid":false,"labelFontSize":16,"labelPadding":11,"title":["_____Δ\u0332 \u0332E\u0332o\u0332P\u0332____\u00a0\u00a0\u00a0\u00a0N\u0332m\u0332s\u0332","Δ sEMG RMS (√rads)"],"titleY":255,"titleAlign":"left","titleFontSize":18,"titleLineHeight":17,"titlePadding":0}},"y2":{"field":"hi"}}},
{"data":{"name":"boxes"},"transform":[{"filter":"datum.cat=='A/A'"}],"mark":{"type":"rule","color":"#5CC36F","strokeWidth":1.5,"strokeDash":[6,4]},"encoding":{"y":{"field":"lo","type":"quantitative"},"y2":{"field":"hi"}}},
{"data":{"name":"boxes"},"transform":[{"filter":"datum.cat=='P/S'"}],"mark":{"type":"bar","size":30,"fill":"#4545F5","stroke":"#161660","strokeWidth":1.5},"encoding":{"y":{"field":"q1","type":"quantitative"},"y2":{"field":"q3"}}},
{"data":{"name":"boxes"},"transform":[{"filter":"datum.cat=='A/A'"}],"mark":{"type":"bar","size":30,"fill":"#80C88F","stroke":"#1E4A28","strokeWidth":1.5},"encoding":{"y":{"field":"q1","type":"quantitative"},"y2":{"field":"q3"}}},
{"data":{"name":"boxes"},"transform":[{"filter":"datum.cat=='P/S'"}],"mark":{"type":"tick","size":30,"thickness":1.5,"color":"#2B2BD9","opacity":1},"encoding":{"y":{"field":"med","type":"quantitative"}}},
{"data":{"name":"boxes"},"transform":[{"filter":"datum.cat=='A/A'"}],"mark":{"type":"tick","size":30,"thickness":1.5,"color":"#5DBE6C","opacity":1},"encoding":{"y":{"field":"med","type":"quantitative"}}},
{"data":{"name":"boxes"},"transform":[{"filter":"datum.cat=='P/S'"}],"mark":{"type":"tick","size":17,"thickness":1.5,"color":"#2B2BFF","opacity":1},"encoding":{"y":{"field":"lo","type":"quantitative"}}},
{"data":{"name":"boxes"},"transform":[{"filter":"datum.cat=='P/S'"}],"mark":{"type":"tick","size":17,"thickness":1.5,"color":"#2B2BFF","opacity":1},"encoding":{"y":{"field":"hi","type":"quantitative"}}},
{"data":{"name":"boxes"},"transform":[{"filter":"datum.cat=='A/A'"}],"mark":{"type":"tick","size":17,"thickness":1.5,"color":"#5CC36F","opacity":1},"encoding":{"y":{"field":"lo","type":"quantitative"}}},
{"data":{"name":"boxes"},"transform":[{"filter":"datum.cat=='A/A'"}],"mark":{"type":"tick","size":17,"thickness":1.5,"color":"#5CC36F","opacity":1},"encoding":{"y":{"field":"hi","type":"quantitative"}}},
{"data":{"name":"pairs"},"mark":{"type":"line","color":"#4E1A4E","strokeWidth":1.2,"strokeDash":[6,3,1,3]},"encoding":{"y":{"field":"v","type":"quantitative"},"detail":{"field":"subj","type":"nominal"}}}
]}
]}
]
}
